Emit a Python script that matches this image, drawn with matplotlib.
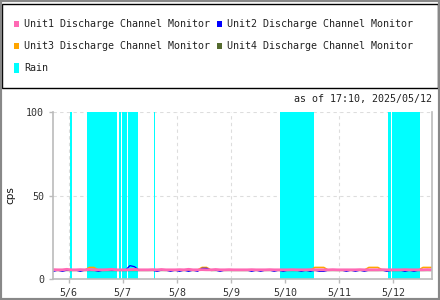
import numpy as np
import pandas as pd
import matplotlib
matplotlib.use('Agg')
import matplotlib.pyplot as plt
import matplotlib.dates as mdates
from matplotlib.patches import Rectangle

plt.rcParams['font.family'] = ['DejaVu Sans Mono']

# ---- data (2-hour samples from 5/5 17:10 to 5/12 17:10) ----
t0 = pd.Timestamp('2025-05-05 17:10')
hours = list(range(0, 170, 2))

unit1 = [5.6, 5.5, 5.5, 5.8, 5.5, 5.5, 5.6, 5.5, 5.7, 5.5,
         5.5, 5.5, 5.6, 5.8, 5.5, 5.5, 5.5, 5.6, 5.8, 5.5,
         5.5, 5.5, 5.6, 5.5, 5.7, 5.5, 5.5, 5.5, 5.6, 5.5,
         5.8, 5.5, 5.5, 5.6, 5.5, 5.5, 5.7, 5.5, 5.5, 5.6,
         5.5, 5.5, 5.5, 5.5, 5.6, 5.5, 5.5, 5.5, 5.6, 5.5,
         5.5, 5.5, 5.5, 5.6, 5.5, 5.5, 5.5, 5.6, 5.5, 5.5,
         5.5, 5.5, 5.6, 5.5, 5.5, 5.5, 5.5, 5.5, 5.6, 5.5,
         5.5, 5.5, 5.5, 5.6, 5.5, 5.5, 5.5, 5.5, 5.6, 5.5,
         5.5, 5.5, 5.5, 5.6, 5.5]
unit2 = [4.6, 5.3, 4.6, 5.3, 5.3, 5.3, 4.6, 5.3, 5.3, 5.3,
         4.6, 5.3, 5.3, 5.3, 5.3, 5.3, 5.3, 8.0, 7.4, 5.3,
         5.3, 5.3, 5.3, 4.6, 5.3, 5.3, 4.6, 5.3, 4.6, 5.3,
         4.6, 5.3, 4.6, 6.4, 6.4, 5.3, 5.3, 4.6, 5.3, 5.3,
         5.3, 5.3, 5.3, 5.3, 4.6, 5.3, 4.6, 5.3, 5.3, 4.6,
         5.3, 4.6, 5.3, 5.3, 5.3, 4.6, 5.3, 4.6, 5.3, 4.6,
         4.6, 5.3, 5.3, 5.3, 5.3, 4.6, 5.3, 4.6, 5.3, 4.6,
         5.3, 5.3, 5.3, 5.3, 4.6, 5.3, 5.3, 5.3, 4.6, 5.3,
         4.6, 5.3, 5.3, 5.3, 5.3]
unit3 = [5.3, 5.3, 5.3, 5.3, 5.3, 5.3, 5.3, 5.3, 6.9, 6.9,
         5.3, 5.3, 5.3, 5.3, 5.3, 5.3, 5.3, 5.3, 5.3, 5.3,
         5.3, 5.3, 5.3, 5.3, 5.3, 5.3, 5.3, 5.3, 5.3, 5.3,
         5.3, 5.3, 5.3, 6.9, 6.9, 5.3, 5.3, 5.3, 5.3, 5.3,
         5.3, 5.3, 5.3, 5.3, 5.3, 5.3, 5.3, 5.3, 5.3, 5.3,
         5.3, 5.3, 5.3, 5.3, 5.3, 5.3, 5.3, 5.3, 6.9, 6.9,
         6.9, 5.3, 5.3, 5.3, 5.3, 5.3, 5.3, 5.3, 5.3, 5.3,
         6.9, 6.9, 6.9, 5.3, 5.3, 5.3, 5.3, 5.3, 5.3, 5.3,
         5.3, 5.3, 6.9, 6.9, 6.9]
unit4 = [5.1, 5.1, 5.1, 5.1, 5.1, 5.1, 5.1, 5.1, 5.1, 5.1,
         5.1, 5.1, 5.1, 5.1, 5.1, 5.1, 5.1, 5.1, 5.1, 5.1,
         5.1, 5.1, 5.1, 5.1, 5.1, 5.1, 5.1, 5.1, 5.1, 5.1,
         5.1, 5.1, 5.1, 6.6, 6.0, 5.1, 5.1, 5.1, 5.1, 5.1,
         5.1, 5.1, 5.1, 5.1, 5.1, 5.1, 5.1, 5.1, 5.1, 5.1,
         5.1, 5.1, 5.1, 5.1, 5.1, 5.1, 5.1, 5.1, 5.1, 5.1,
         5.1, 5.1, 5.1, 5.1, 5.1, 5.1, 5.1, 5.1, 5.1, 5.1,
         5.1, 5.1, 5.1, 5.1, 5.1, 5.1, 5.1, 5.1, 5.1, 5.1,
         5.1, 5.1, 5.1, 5.1, 5.1]

rain_start = ['2025-05-06 00:40', '2025-05-06 08:00', '2025-05-06 22:20',
              '2025-05-06 23:40', '2025-05-07 02:30', '2025-05-07 13:40',
              '2025-05-09 21:40', '2025-05-11 21:45', '2025-05-11 23:25',
              '2025-05-12 00:30']
rain_end = ['2025-05-06 01:30', '2025-05-06 21:30', '2025-05-06 23:20',
            '2025-05-07 02:00', '2025-05-07 06:40', '2025-05-07 14:20',
            '2025-05-10 13:00', '2025-05-11 23:10', '2025-05-12 00:10',
            '2025-05-12 11:40']

labels = ['Unit1 Discharge Channel Monitor', 'Unit2 Discharge Channel Monitor',
          'Unit3 Discharge Channel Monitor', 'Unit4 Discharge Channel Monitor',
          'Rain']
colors = ['#ff69b4', '#0000ff', '#ffa500', '#556b2f', '#00ffff']

W, H = 440, 300
fig = plt.figure(figsize=(W / 100, H / 100), dpi=100)
ax = fig.add_axes([53.3 / W, 1 - 279 / H, (432 - 53.3) / W, (279 - 112) / H])

times = [t0 + pd.Timedelta(hours=h) for h in hours]

for s, e in zip(rain_start, rain_end):
    ax.axvspan(pd.Timestamp(s), pd.Timestamp(e), color=colors[4], lw=0, zorder=1)

series = [unit1, unit2, unit3, unit4]
widths = [2.0, 0.9, 1.2, 1.0]
zords = [6, 5, 4, 3]
for vals, c, lw, z in zip(series, colors[:4], widths, zords):
    ax.plot(times, vals, color=c, lw=lw, zorder=z)

ax.set_xlim(t0, t0 + pd.Timedelta(days=7))
ax.set_ylim(0, 100)
ax.set_yticks([0, 50, 100])
ax.xaxis.set_major_locator(mdates.DayLocator())
ax.xaxis.set_major_formatter(mdates.DateFormatter('%-m/%-d'))
ax.set_axisbelow(True)
ax.grid(True, color='#dddddd', ls=(0, (3, 3)), lw=0.8)
ax.spines['top'].set_visible(False)
for sp in ['left', 'bottom', 'right']:
    ax.spines[sp].set_color('#bbbbbb')
    ax.spines[sp].set_linewidth(1.2)
    ax.spines[sp].set_zorder(7)
ax.tick_params(colors='#bbbbbb', labelcolor='#333333', labelsize=7.2, length=3, width=1)
ax.set_ylabel('cps', fontsize=7.5, color='#111111', labelpad=8, family='DejaVu Sans')

fig.text(432 / W, 1 - 99 / H, 'as of 17:10, 2025/05/12', ha='right', va='center',
         fontsize=7.2, color='#222222')

# legend box
fig.patches.append(Rectangle((1.5 / W, 1 - 88 / H), 436.5 / W, 84.5 / H,
                             transform=fig.transFigure, fill=False,
                             edgecolor='black', lw=1.0))
for i, (lab, c) in enumerate(zip(labels, colors)):
    col, row = i % 2, i // 2
    mx = 14 if col == 0 else 216.5
    tx = 24 if col == 0 else 226.5
    yc = 24 + 22 * row
    mh = 9 if lab == 'Rain' else 6
    fig.patches.append(Rectangle((mx / W, 1 - (yc + mh / 2) / H), 5 / W, mh / H,
                                 transform=fig.transFigure, color=c, lw=0))
    fig.text(tx / W, 1 - yc / H, lab, ha='left', va='center', fontsize=7.2,
             color='#222222')

# outer border
fig.patches.append(Rectangle((0, 0), 1, 1, transform=fig.transFigure,
                             fill=False, edgecolor='#888888', lw=3))

fig.savefig('out.png', dpi=100)
